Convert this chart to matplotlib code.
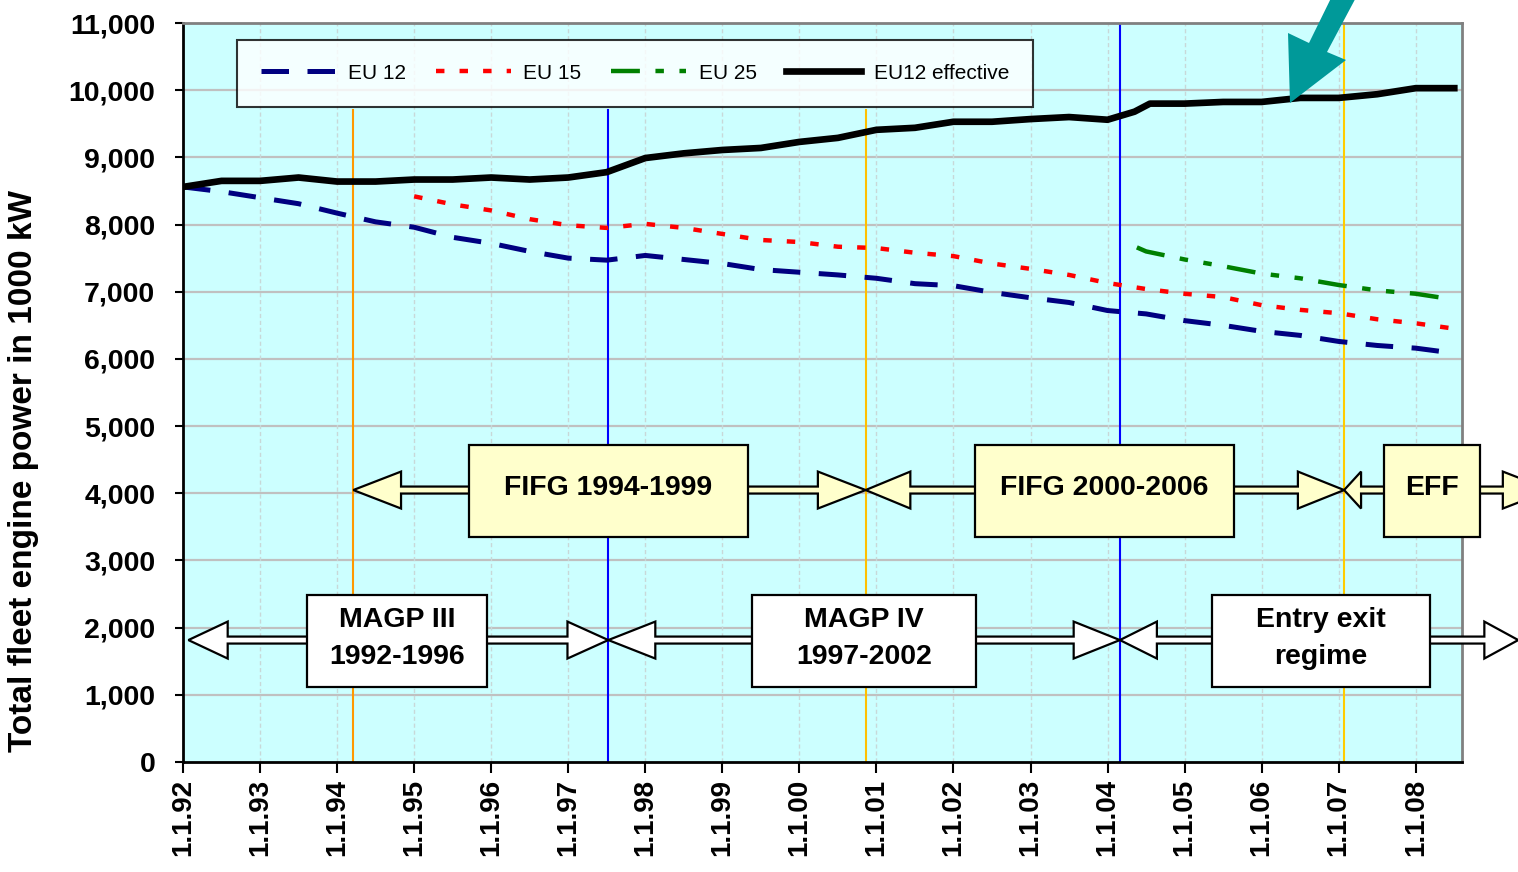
import matplotlib
matplotlib.use("Agg")
import matplotlib.pyplot as plt
from matplotlib.patches import Polygon, Rectangle
from matplotlib.ticker import FuncFormatter, MultipleLocator

plt.rcParams['font.family'] = ['Liberation Sans', 'DejaVu Sans']

# ---------------- data ----------------
eff_x = [1992.0, 1992.5, 1993.0, 1993.5, 1994.0, 1994.5, 1995.0, 1995.5, 1996.0, 1996.5,
         1997.0, 1997.5, 1998.0, 1998.5, 1999.0, 1999.5, 2000.0, 2000.5, 2001.0, 2001.5,
         2002.0, 2002.5, 2003.0, 2003.5, 2004.0, 2004.35, 2004.55, 2005.0, 2005.5, 2006.0,
         2006.5, 2007.0, 2007.5, 2008.0, 2008.5]
eff_y = [8560, 8650, 8650, 8700, 8640, 8640, 8670, 8670, 8700, 8670,
         8700, 8780, 8990, 9060, 9110, 9140, 9230, 9290, 9410, 9440,
         9530, 9530, 9570, 9600, 9560, 9680, 9800, 9800, 9825, 9825,
         9885, 9885, 9940, 10030, 10030]

eu12_x = [1992.0, 1992.5, 1993.0, 1993.5, 1994.0, 1994.5, 1995.0, 1995.5, 1996.0, 1996.5,
          1997.0, 1997.5, 1998.0, 1998.5, 1999.0, 1999.5, 2000.0, 2000.5, 2001.0, 2001.5,
          2002.0, 2002.5, 2003.0, 2003.5, 2004.0, 2004.5, 2005.0, 2005.5, 2006.0, 2006.5,
          2007.0, 2007.5, 2008.0, 2008.4]
eu12_y = [8560, 8490, 8400, 8310, 8170, 8040, 7960, 7810, 7720, 7600,
          7500, 7470, 7540, 7480, 7420, 7330, 7290, 7250, 7200, 7120,
          7090, 6990, 6910, 6840, 6720, 6670, 6570, 6500, 6410, 6350,
          6260, 6200, 6160, 6100]

eu15_x = [1995.0, 1995.5, 1996.0, 1996.5, 1997.0, 1997.5, 1998.0, 1998.5, 1999.0, 1999.5,
          2000.0, 2000.5, 2001.0, 2001.5, 2002.0, 2002.5, 2003.0, 2003.5, 2004.0, 2004.5,
          2005.0, 2005.5, 2006.0, 2006.5, 2007.0, 2007.5, 2008.0, 2008.5]
eu15_y = [8420, 8300, 8210, 8080, 7990, 7950, 8010, 7950, 7860, 7770,
          7740, 7670, 7650, 7580, 7530, 7420, 7340, 7250, 7130, 7040,
          6970, 6920, 6800, 6730, 6680, 6590, 6530, 6450]

eu25_x = [2004.38, 2004.5, 2005.0, 2005.5, 2006.0, 2006.5, 2007.0, 2007.5, 2008.0, 2008.4]
eu25_y = [7660, 7600, 7480, 7380, 7270, 7200, 7100, 7020, 6970, 6900]

tick_years = list(range(1992, 2009))
tick_labels = ["1.1.%02d" % (y % 100) for y in tick_years]

# policy periods
fifg_labels = ["FIFG 1994-1999", "FIFG 2000-2006", "EFF"]
fifg_start = [1994.21, 2000.86, 2007.07]
fifg_end = [2000.86, 2007.07, 2009.75]
fifg_box = [(1995.71, 1999.33), (2002.28, 2005.64), (2007.585, 2008.83)]
fifg_heads = [(0.62, 0.62), (0.58, 0.60), (0.22, 0.62)]

magp_labels = ["MAGP III\n1992-1996", "MAGP IV\n1997-2002", "Entry exit\nregime"]
magp_start = [1992.07, 1997.52, 2004.16]
magp_end = [1997.52, 2004.16, 2009.33]
magp_box = [(1993.61, 1995.94), (1999.38, 2002.29), (2005.35, 2008.18)]
magp_heads = [(0.51, 0.53), (0.61, 0.60), (0.48, 0.44)]

vlines_x = [1994.21, 1997.52, 2000.86, 2004.16, 2007.07]
vlines_c = ["#FF9900", "#0000FF", "#FFC000", "#0000FF", "#FFCC00"]
vlines_top = [9700, 9700, 9700, 11000, 11000]

# ---------------- figure ----------------
W, H = 1518, 872
fig = plt.figure(figsize=(W / 100, H / 100), dpi=100)
ax = fig.add_axes([183 / W, 1 - 762 / H, 1279 / W, 739 / H])
ax.set_facecolor("#CCFFFF")
ax.set_xlim(1992, 2008.6)
ax.set_ylim(0, 11000)

# grid
for yv in range(1000, 11001, 1000):
    ax.axhline(yv, color="#C0C0C0", lw=1.6, zorder=1)
for xv in tick_years[1:]:
    ax.axvline(xv, color="#C8D8D8", lw=1.0, ls=(0, (3, 2)), zorder=1)

for xv, c, top in zip(vlines_x, vlines_c, vlines_top):
    ax.plot([xv, xv], [0, top], color=c, lw=1.5, zorder=2)

# series
ax.plot(eu12_x, eu12_y, color="#000080", lw=3.6, dashes=(5.5, 3.7), label="EU 12", zorder=3,
        solid_capstyle="butt", dash_capstyle="butt")
ax.plot(eu15_x, eu15_y, color="#FF0000", lw=3.2, dashes=(1.9, 3.4), label="EU 15", zorder=3,
        dash_capstyle="butt")
ax.plot(eu25_x, eu25_y, color="#008000", lw=3.2, dashes=(6.5, 3.5, 1.9, 3.5, 1.9, 3.5),
        label="EU 25", zorder=3, dash_capstyle="butt")
ax.plot(eff_x, eff_y, color="#000000", lw=4.8, label="EU12 effective", zorder=4)

# axes styling
ax.xaxis.set_major_locator(plt.FixedLocator(tick_years))
ax.set_xticklabels(tick_labels, rotation=90, fontsize=20, fontweight="bold", va="top")
ax.yaxis.set_major_locator(MultipleLocator(1000))
ax.yaxis.set_major_formatter(FuncFormatter(lambda v, p: "{:,.0f}".format(v)))
ax.tick_params(axis="y", labelsize=20.5, length=6, width=1.5, pad=14, direction="out")
ax.tick_params(axis="x", length=8, width=1.5, pad=4, direction="out")
for lab in ax.get_yticklabels():
    lab.set_fontweight("bold")
ax.spines["left"].set_color("black")
ax.spines["bottom"].set_color("black")
ax.spines["left"].set_linewidth(2)
ax.spines["bottom"].set_linewidth(2)
ax.spines["top"].set_color("#808080")
ax.spines["right"].set_color("#808080")
ax.spines["top"].set_linewidth(2)
ax.spines["right"].set_linewidth(2)

fig.text(24 / W, 1 - 471 / H, "Total fleet engine power in 1000 kW", rotation=90,
         ha="center", va="center", fontsize=24, fontweight="bold")

# legend
leg = ax.legend(loc="upper left", bbox_to_anchor=(54 / 1279, 1 - 24 / 739, 796 / 1279, 0.01),
                mode="expand", ncol=4, fontsize=15, frameon=True, fancybox=False,
                handlelength=3.6, handletextpad=0.6, borderpad=1.15, borderaxespad=0,
                columnspacing=1.0)
leg.get_frame().set_edgecolor("black")
leg.get_frame().set_linewidth(1.5)
leg.set_zorder(10)


def double_arrow(x0, x1, yc, hl0, hl1, fc):
    hh, sh = 275, 52
    pts = [(x0, yc), (x0 + hl0, yc + hh), (x0 + hl0, yc + sh), (x1 - hl1, yc + sh),
           (x1 - hl1, yc + hh), (x1, yc), (x1 - hl1, yc - hh), (x1 - hl1, yc - sh),
           (x0 + hl0, yc - sh), (x0 + hl0, yc - hh)]
    ax.add_patch(Polygon(pts, closed=True, facecolor=fc, edgecolor="black", lw=1.6,
                         zorder=6, clip_on=False, joinstyle="miter"))


def box(xr, y0, y1, fc, text, fs, ls):
    ax.add_patch(Rectangle((xr[0], y0), xr[1] - xr[0], y1 - y0, facecolor=fc,
                           edgecolor="black", lw=1.6, zorder=7, clip_on=False))
    ax.text((xr[0] + xr[1]) / 2, (y0 + y1) / 2 + 45, text, ha="center", va="center",
            fontsize=fs, fontweight="bold", zorder=8, linespacing=ls, clip_on=False)


for lab, s, e, bx, hd in zip(fifg_labels, fifg_start, fifg_end, fifg_box, fifg_heads):
    double_arrow(s, e, 4048, hd[0], hd[1], "#FFFFCC")
    box(bx, 3348, 4717, "#FFFFCC", lab, 20.5, 1.3)

for lab, s, e, bx, hd in zip(magp_labels, magp_start, magp_end, magp_box, magp_heads):
    double_arrow(s, e, 1815, hd[0], hd[1], "white")
    box(bx, 1116, 2485, "white", lab, 20.5, 1.55)

# teal pointer arrow (figure pixel coordinates, y from top)
teal_px = [(1290, 103), (1288, 33), (1309, 43), (1335, -10), (1360, -10), (1327, 52), (1346, 60)]
fig.add_artist(Polygon([(x / W, 1 - y / H) for x, y in teal_px], closed=True,
                       facecolor="#009999", edgecolor="none", transform=fig.transFigure,
                       zorder=20))

fig.savefig("out.png", dpi=100)
